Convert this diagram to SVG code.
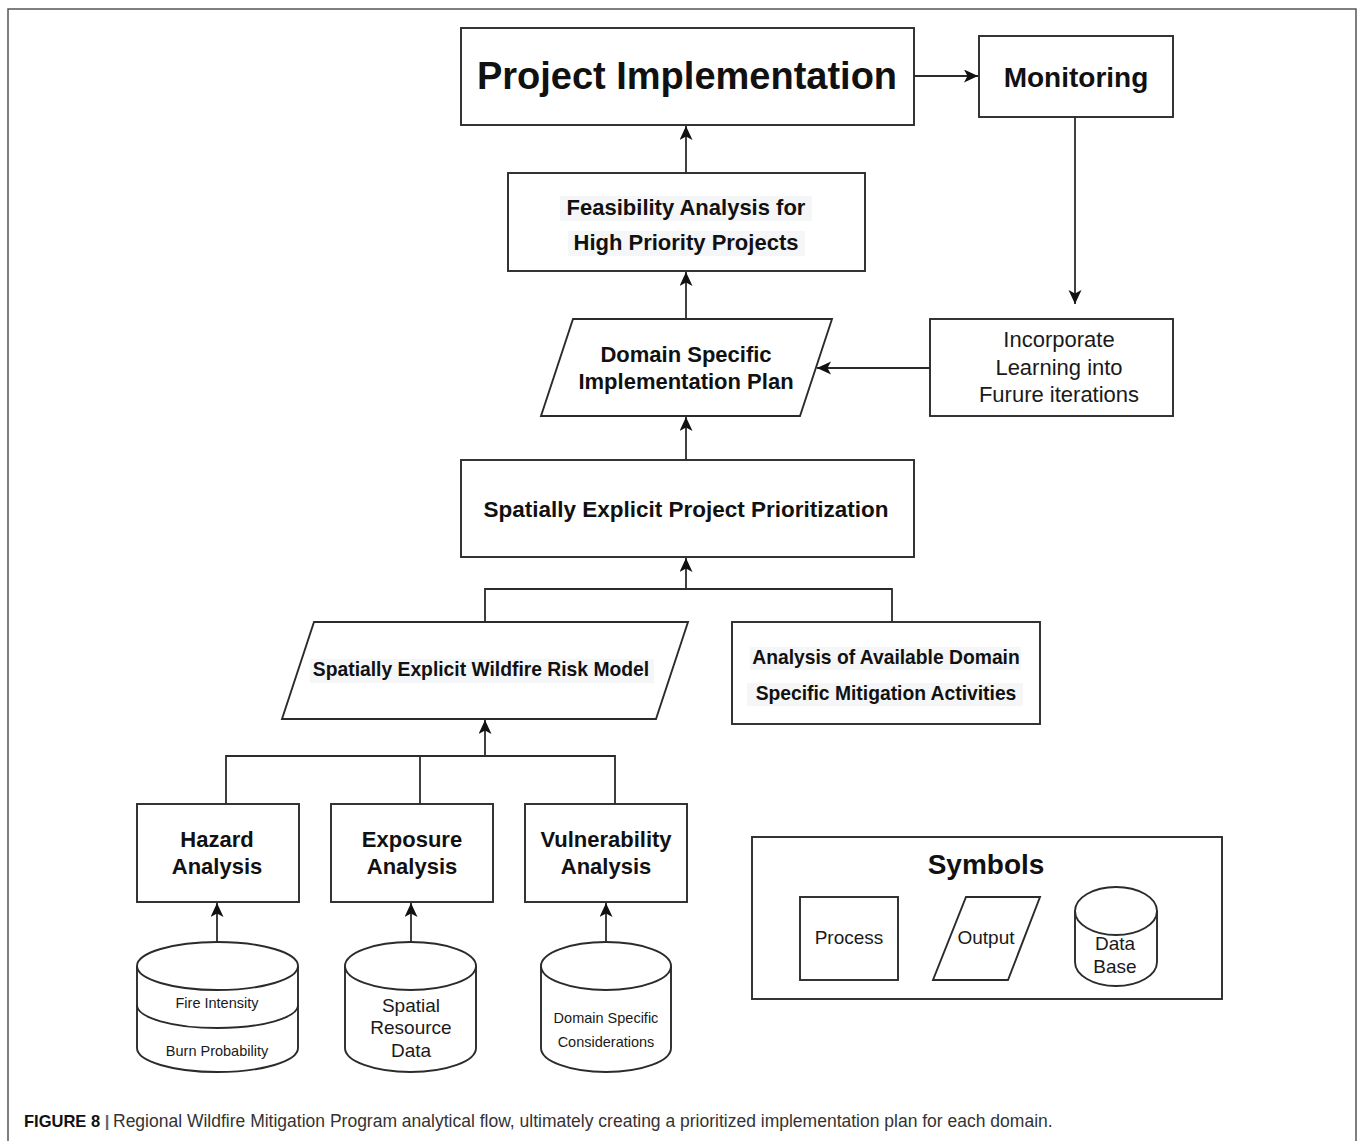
<svg xmlns="http://www.w3.org/2000/svg" width="1358" height="1141" viewBox="0 0 1358 1141">
<style>
.shape{fill:#fff;stroke:#2b2b2b;stroke-width:1.9}
.line{fill:none;stroke:#2b2b2b;stroke-width:1.8}
.b{font-family:"Liberation Sans",Arial,sans-serif;font-weight:bold;fill:#111;text-anchor:middle}
.r{font-family:"Liberation Sans",Arial,sans-serif;fill:#1a1a1a;text-anchor:middle}
.hl{fill:#f5f6f8}
</style>
<defs>
<marker id="arr" markerUnits="userSpaceOnUse" markerWidth="16" markerHeight="14" refX="14" refY="6.5" orient="auto">
<path d="M0,0 L14,6.5 L0,13 L3.5,6.5 z" fill="#111"/>
</marker>
</defs>
<rect x="0" y="0" width="1358" height="1141" fill="#fff"/>
<rect x="8" y="9" width="1348" height="1160" fill="none" stroke="#555" stroke-width="1.5"/>

<g id="connectors">
<line class="line" x1="914" y1="76" x2="978" y2="76" marker-end="url(#arr)"/>
<line class="line" x1="1075" y1="117" x2="1075" y2="304" marker-end="url(#arr)"/>
<line class="line" x1="930" y1="368" x2="817" y2="368" marker-end="url(#arr)"/>
<line class="line" x1="686" y1="173" x2="686" y2="126" marker-end="url(#arr)"/>
<line class="line" x1="686" y1="319" x2="686" y2="272" marker-end="url(#arr)"/>
<line class="line" x1="686" y1="460" x2="686" y2="417" marker-end="url(#arr)"/>
<path class="line" d="M485,622 V589 H892 V622"/>
<line class="line" x1="686" y1="589" x2="686" y2="558" marker-end="url(#arr)"/>
<path class="line" d="M226,804 V756 H615 V804"/>
<line class="line" x1="420" y1="756" x2="420" y2="804"/>
<line class="line" x1="485" y1="756" x2="485" y2="720" marker-end="url(#arr)"/>
<line class="line" x1="217" y1="942" x2="217" y2="903" marker-end="url(#arr)"/>
<line class="line" x1="411" y1="942" x2="411" y2="903" marker-end="url(#arr)"/>
<line class="line" x1="606" y1="942" x2="606" y2="903" marker-end="url(#arr)"/>
</g>

<g id="project-implementation">
<rect class="shape" x="461" y="28" width="453" height="97"/>
<text class="b" x="687" y="89" font-size="38">Project Implementation</text>
</g>

<g id="monitoring">
<rect class="shape" x="979" y="36" width="194" height="81"/>
<text class="b" x="1076" y="87" font-size="28">Monitoring</text>
</g>

<g id="feasibility">
<rect class="shape" x="508" y="173" width="357" height="98"/>
<rect class="hl" x="560" y="196" width="252" height="25"/>
<rect class="hl" x="568" y="231" width="237" height="25"/>
<text class="b" x="686" y="215" font-size="22">Feasibility Analysis for</text>
<text class="b" x="686" y="250" font-size="22">High Priority Projects</text>
</g>

<g id="domain-plan">
<polygon class="shape" points="573,319 832,319 800,416 541,416"/>
<text class="b" x="686" y="362" font-size="22">Domain Specific</text>
<text class="b" x="686" y="389" font-size="22">Implementation Plan</text>
</g>

<g id="incorporate">
<rect class="shape" x="930" y="319" width="243" height="97"/>
<text class="r" x="1059" y="347" font-size="22">Incorporate</text>
<text class="r" x="1059" y="375" font-size="22">Learning into</text>
<text class="r" x="1059" y="402" font-size="22">Furure iterations</text>
</g>

<g id="prioritization">
<rect class="shape" x="461" y="460" width="453" height="97"/>
<text class="b" x="686" y="517" font-size="22.5">Spatially Explicit Project Prioritization</text>
</g>

<g id="risk-model">
<polygon class="shape" points="314,622 688,622 656,719 282,719"/>
<rect class="hl" x="310" y="659" width="344" height="24"/>
<text class="b" x="481" y="676" font-size="19.3">Spatially Explicit Wildfire Risk Model</text>
</g>

<g id="mitigation-activities">
<rect class="shape" x="732" y="622" width="308" height="102"/>
<rect class="hl" x="750" y="647" width="271" height="23"/>
<rect class="hl" x="747" y="683" width="276" height="23"/>
<text class="b" x="886" y="664" font-size="19.3">Analysis of Available Domain</text>
<text class="b" x="886" y="700" font-size="19.3">Specific Mitigation Activities</text>
</g>

<g id="hazard">
<rect class="shape" x="137" y="804" width="162" height="98"/>
<text class="b" x="217" y="847" font-size="22">Hazard</text>
<text class="b" x="217" y="874" font-size="22">Analysis</text>
</g>

<g id="exposure">
<rect class="shape" x="331" y="804" width="162" height="98"/>
<text class="b" x="412" y="847" font-size="22">Exposure</text>
<text class="b" x="412" y="874" font-size="22">Analysis</text>
</g>

<g id="vulnerability">
<rect class="shape" x="525" y="804" width="162" height="98"/>
<text class="b" x="606" y="847" font-size="22">Vulnerability</text>
<text class="b" x="606" y="874" font-size="22">Analysis</text>
</g>

<g id="hazard-data">
<path class="shape" d="M137,966 V1048 A80.5,24 0 0 0 298,1048 V966"/>
<ellipse class="shape" cx="217.5" cy="966" rx="80.5" ry="24"/>
<path class="line" d="M137,1005 A80.5,23 0 0 0 298,1005"/>
<text class="r" x="217" y="1008" font-size="14.5">Fire Intensity</text>
<text class="r" x="217" y="1056" font-size="14.5">Burn Probability</text>
</g>

<g id="exposure-data">
<path class="shape" d="M345,966 V1048 A65.5,24 0 0 0 476,1048 V966"/>
<ellipse class="shape" cx="410.5" cy="966" rx="65.5" ry="24"/>
<text class="r" x="411" y="1012" font-size="19">Spatial</text>
<text class="r" x="411" y="1034" font-size="19">Resource</text>
<text class="r" x="411" y="1057" font-size="19">Data</text>
</g>

<g id="vulnerability-data">
<path class="shape" d="M541,966 V1048 A65,24 0 0 0 671,1048 V966"/>
<ellipse class="shape" cx="606" cy="966" rx="65" ry="24"/>
<text class="r" x="606" y="1023" font-size="14.5">Domain Specific</text>
<text class="r" x="606" y="1047" font-size="14.5">Considerations</text>
</g>

<g id="symbols">
<rect class="shape" x="752" y="837" width="470" height="162"/>
<text class="b" x="986" y="874" font-size="28">Symbols</text>
<rect class="shape" x="800" y="897" width="98" height="83"/>
<text class="r" x="849" y="944" font-size="19">Process</text>
<polygon class="shape" points="966,897 1040,897 1008,980 933,980"/>
<text class="r" x="986" y="944" font-size="19">Output</text>
<path class="shape" d="M1075,911 V962 A41,24 0 0 0 1157,962 V911"/>
<ellipse class="shape" cx="1116" cy="911" rx="41" ry="24"/>
<text class="r" x="1115" y="950" font-size="19">Data</text>
<text class="r" x="1115" y="973" font-size="19">Base</text>
</g>

<g id="caption">
<text x="24" y="1127" font-family="'Liberation Sans',Arial,sans-serif" font-size="16.5" fill="#111"><tspan font-weight="bold">FIGURE 8</tspan><tspan fill="#666" font-weight="bold"> |</tspan></text>
<text x="113" y="1127" font-family="'Liberation Sans',Arial,sans-serif" font-size="17.5" fill="#333">Regional Wildfire Mitigation Program analytical flow, ultimately creating a prioritized implementation plan for each domain.</text>
</g>
</svg>
